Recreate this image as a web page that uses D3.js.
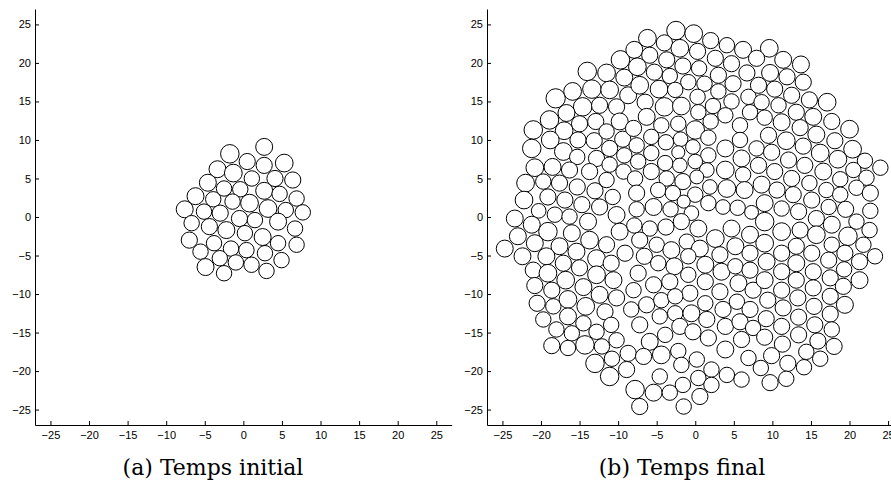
<!DOCTYPE html>
<html>
<head>
<meta charset="utf-8">
<script src="https://cdn.jsdelivr.net/npm/d3@7"></script>
<style>
  body { margin: 0; background: #fff; }
  .tick text { font-family: "Liberation Sans", Arial, sans-serif; font-size: 11px; fill: #000; }
  .caption { font-family: "DejaVu Serif", serif; font-size: 22px; fill: #000; }
</style>
</head>
<body>
<script>
const W = 891, H = 483;

const tickValues = [-25, -20, -15, -10, -5, 0, 5, 10, 15, 20, 25];
const captions = ["(a) Temps initial", "(b) Temps final"];

// [x, y, r] at the initial time
const initialCircles = [
  [2.7, 9.1, 1.1], [-1.75, 8.2, 1.2], [0.5, 7.2, 1.05], [2.7, 6.7, 1.05], [5.3, 7.0, 1.15],
  [-3.35, 6.2, 1.1], [-1.3, 5.7, 1.15], [1.1, 5.0, 1.0], [4.1, 5.0, 1.05], [6.4, 4.8, 1.05],
  [-4.6, 4.45, 1.1], [-2.5, 3.7, 1.0], [-0.4, 3.6, 1.0], [2.7, 3.4, 1.1], [4.7, 3.0, 1.0],
  [6.9, 2.4, 1.0], [-6.2, 2.7, 1.1], [-3.9, 2.3, 1.0], [-1.4, 2.0, 1.0], [0.8, 1.8, 1.15],
  [3.2, 1.1, 1.15], [5.5, 0.9, 1.0], [7.7, 0.6, 1.0], [-7.6, 1.0, 1.1], [-5.1, 0.7, 1.0],
  [-3.0, 0.5, 1.05], [-0.5, -0.2, 1.05], [1.5, -0.4, 1.0], [4.5, -0.6, 1.1], [6.7, -1.5, 1.0],
  [-6.7, -0.8, 1.0], [-4.4, -1.25, 1.05], [-2.2, -1.7, 1.1], [0.2, -2.1, 1.0], [2.5, -2.6, 1.1],
  [4.5, -3.4, 1.0], [6.9, -3.6, 1.0], [-7.0, -3.0, 1.05], [-3.8, -3.4, 1.0], [-1.6, -4.1, 1.0],
  [0.4, -4.3, 1.0], [2.8, -4.7, 1.0], [4.95, -5.6, 1.0], [-5.55, -4.5, 1.0], [-3.05, -5.35, 1.0],
  [-0.97, -5.9, 1.0], [1.06, -6.2, 1.0], [3.0, -7.0, 1.0], [-4.9, -6.5, 1.1], [-2.5, -7.3, 1.0]
];

// [x, y, r] at the final time
const finalCircles = [
  // upper left
  [-9.7, 20.4, 1.2], [-14.0, 18.9, 1.2], [-11.5, 18.7, 1.15], [-9.2, 18.1, 1.1], [-18.1, 15.4, 1.25],
  [-15.9, 16.3, 1.15], [-13.4, 16.6, 1.2], [-11.1, 16.5, 1.15], [-8.7, 15.8, 1.1], [-14.6, 14.3, 1.2],
  [-12.4, 14.5, 1.05], [-10.2, 14.3, 1.05], [-16.7, 13.5, 1.1], [-18.9, 12.6, 1.2], [-15.0, 12.1, 1.05],
  [-12.9, 12.4, 1.05], [-9.8, 12.4, 1.1], [-21.0, 11.3, 1.2], [-17.0, 11.2, 1.15], [-18.8, 10.0, 1.15],
  [-15.2, 10.0, 1.05], [-13.1, 9.9, 1.05], [-11.5, 11.1, 1.0], [-9.4, 10.1, 1.05], [-21.2, 8.9, 1.2],
  [-17.1, 8.5, 1.15], [-15.3, 7.8, 1.0], [-12.8, 7.6, 1.05], [-11.1, 8.9, 1.05], [-9.2, 8.0, 1.0],
  [-20.8, 6.4, 1.15], [-18.5, 6.5, 1.1], [-16.3, 6.1, 1.05], [-13.7, 5.9, 1.05], [-11.1, 6.8, 1.0],
  [-9.3, 5.9, 1.0], [-22.0, 4.4, 1.15], [-19.7, 4.6, 1.0], [-17.6, 4.4, 1.05], [-15.3, 3.9, 1.05],
  [-13.0, 3.4, 1.05], [-11.5, 4.8, 1.0], [-22.2, 2.2, 1.15], [-19.1, 2.6, 1.05], [-16.9, 2.2, 1.05],
  [-14.7, 1.6, 1.05], [-12.4, 1.3, 1.05], [-10.7, 2.6, 1.0],
  // upper middle
  [-2.5, 24.2, 1.2], [-0.2, 23.8, 1.15], [-6.2, 23.2, 1.15], [-4.0, 22.6, 1.05], [2.0, 22.9, 1.05],
  [4.1, 22.3, 1.0], [6.2, 21.7, 1.1], [-7.9, 21.7, 1.1], [-2.0, 21.9, 1.15], [0.3, 21.5, 1.05],
  [-5.9, 21.0, 1.05], [-3.7, 20.4, 1.05], [2.6, 20.6, 1.05], [4.7, 19.9, 1.05], [-7.5, 19.5, 1.15],
  [-1.6, 19.6, 1.05], [0.5, 19.3, 1.0], [-5.3, 18.8, 1.05], [-3.3, 18.3, 1.0], [3.0, 18.4, 1.05],
  [6.7, 18.7, 1.05], [-0.9, 17.5, 1.0], [1.2, 17.3, 1.0], [-7.2, 17.1, 1.15], [-4.7, 16.6, 1.15],
  [-2.6, 16.5, 1.0], [4.9, 17.3, 1.05], [3.0, 16.3, 1.0], [0.3, 15.6, 1.0], [6.9, 15.6, 1.0],
  [-4.0, 14.3, 1.2], [-1.8, 14.4, 1.15], [-6.5, 14.9, 1.05], [2.3, 14.4, 1.0], [4.7, 15.0, 1.0],
  [0.4, 13.6, 1.0], [7.1, 13.6, 1.0], [-6.3, 13.0, 1.1], [-4.4, 11.9, 1.0], [-2.2, 12.1, 1.0],
  [0.0, 11.3, 1.2], [2.0, 12.4, 1.0], [3.9, 13.2, 1.0], [5.8, 11.9, 1.0], [-8.0, 11.5, 1.05],
  [-5.7, 10.4, 1.0], [-3.8, 9.7, 1.0], [-1.9, 10.1, 0.95], [1.7, 10.3, 1.0], [3.9, 8.9, 1.1],
  [5.8, 10.0, 1.0], [-7.6, 9.3, 1.0], [-5.7, 8.3, 1.0], [-2.2, 8.4, 0.85],
  [-0.3, 9.1, 0.95], [1.7, 8.0, 1.0], [6.0, 7.6, 1.1], [-7.4, 7.2, 1.0], [-3.9, 7.0, 1.0],
  [-2.0, 6.7, 0.95], [0.0, 7.2, 0.95], [1.5, 6.1, 0.95], [3.9, 6.1, 1.15],
  [6.2, 5.5, 1.0], [-7.8, 5.0, 1.0], [-5.7, 5.9, 1.05], [-3.7, 5.0, 1.0], [-1.6, 4.6, 1.05],
  [0.2, 5.2, 0.9], [1.9, 3.9, 0.95], [4.1, 3.7, 1.15], [6.4, 3.5, 1.1], [-7.6, 3.1, 1.05],
  [-4.8, 3.5, 1.0], [-2.9, 3.1, 1.0], [0.0, 2.9, 1.0], [-5.4, 1.3, 1.1], [-3.2, 1.0, 1.0],
  [-1.5, 2.0, 0.85], [1.7, 1.8, 1.0], [3.6, 1.3, 0.95], [5.5, 1.2, 1.0], [7.3, 0.6, 0.9],
  [-7.6, 1.0, 1.0], [-0.5, 0.5, 0.95],
  // upper right
  [9.6, 21.9, 1.15], [7.95, 20.6, 1.05], [11.4, 20.4, 1.1], [13.7, 19.8, 1.1], [9.7, 18.7, 1.1],
  [11.9, 18.2, 1.05], [14.0, 17.5, 1.05], [10.3, 16.6, 1.05], [8.2, 17.1, 1.05], [12.5, 15.8, 1.05],
  [14.8, 15.2, 1.05], [17.1, 14.9, 1.15], [8.6, 14.9, 1.0], [10.8, 14.5, 1.0], [13.1, 13.6, 1.05],
  [15.3, 13.0, 1.1], [17.7, 12.4, 1.05], [20.0, 11.4, 1.15], [9.0, 12.9, 1.0], [11.2, 12.3, 1.1],
  [13.6, 11.6, 1.05], [15.7, 10.7, 1.1], [18.1, 9.9, 1.05], [20.4, 8.8, 1.15], [9.5, 10.6, 1.05],
  [11.8, 9.9, 1.15], [14.0, 9.2, 1.05], [16.2, 8.3, 1.15], [18.5, 7.5, 1.15], [22.0, 7.3, 1.0],
  [24.0, 6.4, 1.0], [7.95, 8.9, 1.0], [9.9, 8.4, 1.05], [12.1, 7.4, 1.05], [14.2, 6.7, 1.05],
  [16.6, 5.9, 1.1], [18.8, 4.9, 1.0], [20.5, 6.1, 1.0], [22.2, 5.1, 1.0], [8.2, 6.7, 1.05],
  [10.3, 5.9, 1.05], [12.5, 5.0, 1.05], [14.8, 4.4, 1.0], [17.0, 3.5, 1.0], [18.8, 2.9, 1.0],
  [20.9, 3.8, 1.0], [22.7, 3.1, 1.05], [8.6, 4.2, 1.1], [10.6, 3.5, 1.05], [12.7, 2.9, 1.05],
  [15.1, 2.2, 1.05], [17.3, 1.3, 1.0], [19.5, 1.0, 1.05], [22.7, 0.8, 1.0],
  [9.0, 1.8, 1.1], [11.2, 1.1, 1.0], [13.4, 0.7, 1.05],
  // lower left
  [-23.4, -0.2, 1.1], [-20.3, 0.8, 0.95], [-18.2, 0.3, 1.0], [-16.3, 0.05, 1.0], [-13.9, -0.6, 1.1],
  [-10.2, 0.26, 1.1], [-21.2, -1.0, 1.1], [-19.1, -1.9, 1.2], [-16.0, -2.1, 1.1], [-23.0, -2.5, 1.1],
  [-24.7, -4.1, 1.1], [-20.8, -3.4, 1.1], [-17.6, -3.8, 1.1], [-13.7, -3.0, 1.15], [-11.5, -3.6, 1.05],
  [-9.8, -1.9, 1.1], [-22.4, -5.1, 1.1], [-19.3, -5.1, 1.1], [-15.4, -4.5, 1.1], [-17.1, -6.0, 1.05],
  [-21.0, -6.9, 1.05], [-19.1, -7.3, 1.15], [-15.0, -6.6, 1.05], [-12.8, -5.4, 1.15], [-10.9, -6.0, 1.05],
  [-9.1, -4.7, 1.05], [-20.8, -8.9, 1.05], [-18.6, -9.5, 1.05], [-16.8, -8.2, 1.15], [-14.5, -9.1, 1.1],
  [-12.4, -10.1, 1.1], [-12.8, -7.5, 1.15], [-10.6, -8.2, 1.1], [-20.5, -11.2, 1.05], [-18.4, -11.6, 1.0],
  [-16.5, -10.7, 1.15], [-14.2, -11.6, 1.15], [-11.7, -12.3, 1.05], [-10.2, -10.5, 1.05], [-19.7, -13.3, 1.0],
  [-16.5, -12.9, 1.1], [-14.5, -13.8, 1.0], [-10.9, -14.0, 1.0], [-12.8, -14.9, 1.0], [-18.0, -14.6, 1.0],
  [-16.0, -15.1, 1.0], [-14.3, -16.6, 1.2], [-18.6, -16.7, 1.05], [-16.5, -17.0, 1.0], [-12.1, -16.8, 1.0],
  [-10.2, -16.0, 1.0], [-13.0, -19.0, 1.2], [-10.8, -18.4, 1.0], [-11.1, -20.7, 1.2], [-8.7, -17.7, 1.05],
  [-8.9, -19.8, 1.05],
  // lower middle
  [-7.9, -1.1, 1.0], [-5.9, -1.5, 1.0], [-3.8, -1.3, 1.05], [-1.8, -0.6, 1.05], [0.4, -1.5, 1.1],
  [2.6, -2.8, 1.15], [4.7, -1.5, 1.1], [7.1, -2.3, 1.1], [-7.2, -3.0, 1.05], [-5.0, -3.6, 1.0],
  [-3.1, -4.3, 1.1], [-1.1, -3.2, 1.0], [0.6, -4.1, 1.1], [3.2, -4.9, 1.05], [5.2, -3.8, 1.1],
  [7.1, -4.7, 1.05], [-6.6, -5.1, 1.05], [-4.8, -6.0, 1.0], [-0.9, -5.1, 1.0], [1.3, -6.2, 1.1],
  [3.4, -7.1, 1.1], [5.2, -6.4, 1.0], [7.1, -6.9, 1.05], [-7.4, -7.3, 1.05], [-2.7, -6.4, 1.1],
  [-0.9, -7.5, 1.0], [-5.4, -8.8, 1.05], [-3.3, -8.4, 1.05], [1.3, -8.4, 1.05], [5.6, -8.6, 1.1],
  [7.5, -9.5, 1.05], [-8.0, -9.5, 1.0], [-0.7, -9.9, 1.05], [3.2, -9.7, 1.05], [-6.3, -11.4, 1.05],
  [-4.4, -10.8, 1.0], [-2.6, -10.3, 1.0], [1.3, -11.2, 1.0], [3.6, -12.0, 1.05], [5.4, -11.0, 1.0],
  [7.1, -12.0, 1.05], [-8.3, -12.0, 1.0], [-4.6, -12.9, 1.0], [-2.6, -12.5, 1.0], [-0.5, -12.5, 1.1],
  [1.5, -13.3, 1.05], [-7.2, -14.0, 1.05], [-3.9, -15.3, 1.0], [-2.0, -14.2, 1.05], [-0.3, -14.9, 1.05],
  [3.9, -14.2, 1.05], [5.8, -13.6, 1.05], [7.5, -14.4, 1.0], [-5.9, -16.2, 1.1], [1.7, -15.7, 1.05],
  [6.0, -15.9, 1.05], [-6.7, -18.1, 1.05], [-4.4, -17.9, 1.15], [-2.2, -17.4, 1.0], [0.2, -18.5, 1.0],
  [3.9, -17.2, 1.1], [6.9, -18.3, 1.0], [-1.8, -19.2, 1.0], [2.1, -19.8, 1.0], [4.1, -20.5, 1.0],
  [6.0, -21.1, 1.0], [-4.6, -20.7, 1.0], [0.4, -20.9, 1.0], [-1.6, -21.8, 1.0], [2.1, -21.8, 1.0],
  [-7.8, -22.4, 1.2], [-5.4, -22.8, 1.1], [-3.3, -22.8, 1.0], [0.6, -23.3, 1.05], [-7.2, -24.6, 1.05],
  [-1.5, -24.6, 1.0],
  // lower right
  [9.0, -0.6, 1.2], [15.7, -0.2, 1.05], [17.7, -1.0, 1.1], [20.9, -0.6, 1.0], [11.2, -1.9, 1.15],
  [13.6, -1.7, 1.05], [15.7, -2.3, 1.15], [17.7, -3.6, 1.0], [19.8, -2.5, 1.2], [22.6, -1.7, 1.0],
  [21.8, -3.6, 1.0], [23.3, -5.1, 1.0], [9.0, -3.4, 1.15], [13.1, -3.8, 1.05], [11.2, -4.7, 1.05],
  [15.1, -4.7, 1.05], [17.3, -5.6, 1.05], [19.4, -4.7, 1.05], [21.3, -5.8, 1.05], [9.25, -5.8, 1.1],
  [13.1, -6.0, 1.1], [11.2, -7.1, 1.05], [15.3, -7.1, 1.05], [17.5, -7.9, 1.05], [19.3, -6.8, 1.0],
  [9.0, -8.2, 1.1], [11.2, -9.5, 1.05], [13.1, -8.2, 1.05], [15.3, -9.2, 1.05], [17.5, -10.3, 1.05],
  [19.2, -9.0, 1.05], [21.3, -8.2, 1.1], [9.4, -10.8, 1.05], [11.4, -11.8, 1.05], [13.3, -10.5, 1.05],
  [15.4, -11.6, 1.05], [17.5, -12.6, 1.05], [19.4, -11.4, 1.1], [9.2, -13.2, 1.05], [11.2, -14.2, 1.05],
  [13.4, -13.0, 1.05], [15.5, -14.0, 1.05], [17.7, -14.6, 1.0], [18.0, -16.8, 1.05], [15.9, -16.1, 1.05],
  [13.4, -15.3, 1.05], [9.0, -15.6, 1.05], [11.3, -16.5, 1.05], [14.4, -17.5, 1.0], [16.2, -18.4, 1.0],
  [14.1, -19.5, 1.0], [12.0, -19.0, 1.05], [9.9, -18.0, 1.05], [11.8, -21.0, 1.0], [9.7, -21.5, 1.05],
  [8.5, -19.6, 1.0]
];

const svg = d3.select("body").append("svg")
    .attr("width", W)
    .attr("height", H);

const panels = [
    { circles: initialCircles, caption: captions[0], x0: 35, x1: 451.7, capX: 213 },
    { circles: finalCircles, caption: captions[1], x0: 487, x1: 903.5, capX: 682 }
];

// both panels share the vertical scale
const y_scale = d3.scaleLinear().domain([-27, 27]).range([425, 9]);

panels.forEach(function(p) {
    const x_scale = d3.scaleLinear().domain([-27, 27]).range([p.x0, p.x1]);
    const g = svg.append("g");

    g.selectAll("circle")
        .data(p.circles)
        .enter()
        .append("circle")
        .attr("cx", function(d) { return x_scale(d[0]); })
        .attr("cy", function(d) { return y_scale(d[1]); })
        .attr("r", function(d) { return x_scale(d[2]) - x_scale(0); })
        .attr("fill", "#fff")
        .attr("stroke", "#000")
        .attr("stroke-width", 1);

    // x axis, ticks pointing inward
    g.append("g")
        .attr("transform", "translate(0,425)")
        .call(d3.axisBottom(x_scale).tickValues(tickValues).tickSize(-4).tickSizeOuter(0).tickPadding(6));

    // y axis
    g.append("g")
        .attr("transform", "translate(" + p.x0 + ",0)")
        .call(d3.axisLeft(y_scale).tickValues(tickValues).tickSize(-4).tickSizeOuter(0).tickPadding(4));

    g.selectAll(".domain").attr("stroke", "#000").attr("stroke-width", 1);
    g.selectAll(".tick line").attr("stroke", "#000");

    svg.append("text")
        .attr("class", "caption")
        .attr("x", p.capX)
        .attr("y", 475)
        .attr("text-anchor", "middle")
        .text(p.caption);
});
</script>
</body>
</html>
